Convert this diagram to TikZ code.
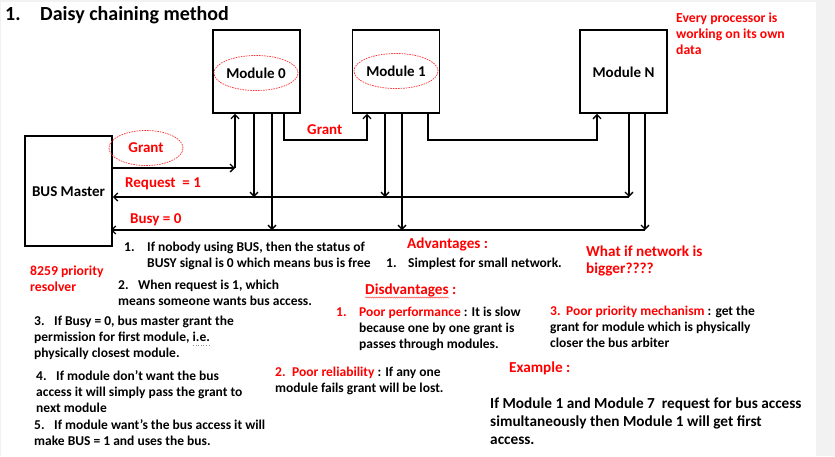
\documentclass[tikz,border=0pt]{standalone}
\usepackage{fontspec}
\setmainfont{Carlito}
\usetikzlibrary{arrows.meta}
\usetikzlibrary{positioning, shapes.geometric, decorations.pathmorphing}
\tikzset{
module/.style = { rectangle, draw = black, line width = 1.8pt, minimum width = 87pt, minimum height = 83pt, inner sep = 0pt },
tag/.style = { ellipse, draw = red!80, line width = 0.7pt, dash pattern = on 1.6pt off 1pt, minimum width = 74pt, minimum height = 35pt, inner sep = 0pt },
wire/.style = { line width = 1.3pt, -{Straight Barb[length = 4pt, width = 8pt]} },
note/.style = { anchor = west, align = left, inner sep = 0pt, font = \bfseries\fontsize{13.5}{16}\selectfont },
label/.style = { anchor = west, inner sep = 0pt, text = red, font = \bfseries\fontsize{13.7}{16}\selectfont },
head/.style = { label, font = \bfseries\fontsize{15.2}{17}\selectfont },
sign/.style = { font = \bfseries\fontsize{15}{17}\selectfont },
}
\newcommand{\itemno}[2]{\makebox[#1][l]{#2}}

\begin{document}
\begin{tikzpicture}[x = 1pt, y = -1pt]
      % page
      \fill[black!5] (0, 0) rectangle (835, 456);
      \fill[white] (1, 1.5) rectangle (816, 456);
      \node[anchor = west, inner sep = 0pt, font = \bfseries\fontsize{20}{24}\selectfont] (title) at (5, 15) {\itemno{35pt}{1.}Daisy chaining method};

      % boxes
      \node[module] (mod0) at (256.5, 71.5) {};
      \node[module] (mod1) at (396, 71.5) {};
      \node[module] (modN) at (623.5, 71.5) {};
      \node[module, minimum height = 110pt] (master) at (68.5, 191) {};
      \node[tag, sign] (lab0) at (256, 73) {Module 0};
      \node[tag, sign] (lab1) at (396, 71) {Module 1};
      \node[sign] (labN) at (623.5, 72) {Module N};
      \node[sign] (labM) at (68.5, 192) {BUS Master};

      % grant chain
      \coordinate (g0) at (235, 168);
      \coordinate (k0) at (284, 140);
      \coordinate (k1) at (367, 140);
      \coordinate (k2) at (428, 140);
      \coordinate (k3) at (597, 140);
      \draw[wire] (master.east |- g0) -- (g0);
      \draw[wire] (g0) -- (g0 |- mod0.south);
      \draw[wire] (k0 |- mod0.south) -- (k0) -- (k1) -- (k1 |- mod1.south);
      \draw[wire] (k2 |- mod1.south) -- (k2) -- (k3) -- (k3 |- modN.south);

      % request and busy lines
      \coordinate (r0) at (254, 197);
      \coordinate (r1) at (385, 197);
      \coordinate (rN) at (629, 197);
      \coordinate (b0) at (272, 230);
      \coordinate (b1) at (402, 230);
      \coordinate (bN) at (645, 230);
      \draw[wire] (rN) -- (master.east |- rN);
      \draw[wire] (bN) -- ([xshift = -2pt]master.east |- bN);
      \draw[wire] (r0 |- mod0.south) -- (r0);
      \draw[wire] (r1 |- mod1.south) -- (r1);
      \draw[wire] (rN |- modN.south) -- (rN);
      \draw[wire] (b0 |- mod0.south) -- (b0);
      \draw[wire] (b1 |- mod1.south) -- (b1);
      \draw[wire] (bN |- modN.south) -- (bN);

      % signal labels
      \node[tag, sign, text = red] (grant) at (146, 148) {Grant\hspace{7pt}};
      \node[label, sign] (grant1) at (307, 130) {Grant};
      \node[label, sign] (request) at (125, 184) {Request\ \ = 1};
      \node[label, sign] (busy) at (130, 220) {Busy = 0};
      \node[label, align = left] (own) at (676, 34) {Every processor is\\working on its own\\data};

      % notes
      \node[note] (n1) at (124, 256) {\itemno{23pt}{1.}If nobody using BUS, then the status of\\\hspace*{23pt}BUSY signal is 0 which means bus is free};
      \node[label, align = left] (prio) at (30, 279) {8259 priority\\resolver};
      \node[note] (n2) at (118, 293) {\itemno{20pt}{2.}When request is 1, which\\means someone wants bus access.};
      \node[note] (n3) at (34, 338) {\itemno{20pt}{3.}If Busy = 0, bus master grant the\\permission for first module, i.e.\\physically closest module.};
      \node[note] (n4) at (36, 391.5) {\itemno{20pt}{4.}If module don’t want the bus\\access it will simply pass the grant to\\next module};
      \node[note] (n5) at (34, 433) {\itemno{20pt}{5.}If module want’s the bus access it will\\make BUS = 1 and uses the bus.};
      \draw[black!45, line width = 0.6pt, dotted] (193, 345) -- (211, 345);

      % advantages
      \node[head] (adv) at (407, 244) {Advantages :};
      \node[note] (a1) at (386, 264) {\itemno{22pt}{1.}Simplest for small network.};
      \node[head, align = left] (big) at (586, 260.5) {What if network is\\bigger????};
      \node[head] (dis) at (365, 290) {Disdvantages :};
      \draw[red!70, line width = 0.5pt, decorate, decoration = {snake, amplitude = 0.6pt, segment length = 2.2pt}] (365, 297.5) -- (449, 297.5);
      \node[note] (d1) at (336, 329) {\itemno{23pt}{\textcolor{red}{1.}}\textcolor{red}{Poor performance} : It is slow\\\hspace*{23pt}because one by one grant is\\\hspace*{23pt}passes through modules.};
      \node[note] (d3) at (550, 326.5) {\itemno{16pt}{\textcolor{red}{3.}}\textcolor{red}{Poor priority mechanism} : get the\\grant for module which is physically\\closer the bus arbiter};
      \node[note] (d2) at (275, 381) {\itemno{17pt}{\textcolor{red}{2.}}\textcolor{red}{Poor reliability} : If any one\\module fails grant will be lost.};

      % example
      \node[head] (ex) at (509, 368) {Example :};
      \node[note, font = \bfseries\fontsize{15.3}{18}\selectfont] (ex1) at (490, 421) {If Module 1 and Module 7\ \ request for bus access\\simultaneously then Module 1 will get first\\access.};
    \end{tikzpicture}
\end{document}
